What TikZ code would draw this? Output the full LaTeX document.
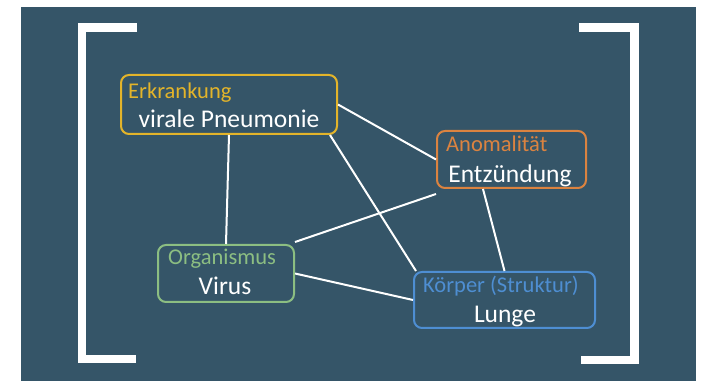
\documentclass[tikz,border=0pt]{standalone}
\usepackage{fontspec}
\setmainfont{Carlito}
\usetikzlibrary{calc}
\definecolor{panel}{HTML}{355568}
\definecolor{cgold}{HTML}{E3B42A}
\definecolor{corange}{HTML}{DB8340}
\definecolor{cgreen}{HTML}{8CBE82}
\definecolor{cblue}{HTML}{4E8ED2}
\tikzset{
  box/.style={draw=#1, line width=2pt, rounded corners=8pt, minimum height=0pt, inner sep=0pt},
  lab/.style={anchor=base west, inner sep=0pt, font=\fontsize{22.5}{24}\selectfont},
  main/.style={anchor=base, inner sep=0pt, text=white, font=\fontsize{25.5}{27}\selectfont},
  link/.style={draw=white, line width=2pt},
  bracket/.style={draw=white, line width=8.5pt, line join=miter},
}
\begin{document}
\begin{tikzpicture}[x=1pt,y=-1pt]
\useasboundingbox (0,0) rectangle (702,382);
\fill[white] (0,0) rectangle (702,382);
\fill[panel] (21,7) rectangle (696,381);
% brackets
\draw[bracket] (137,27.5) -- (82,27.5) -- (82,359) -- (136,359);
\draw[bracket] (579,27.5) -- (634.5,27.5) -- (634.5,360) -- (581,360);
% boxes (as coordinates-named nodes)
\node[box=cgold, minimum width=216pt, minimum height=59pt] (erk) at (229,104.5) {};
\node[box=corange, minimum width=149pt, minimum height=57pt] (ano) at (511.5,159.5) {};
\node[box=cgreen, minimum width=136pt, minimum height=57pt] (org) at (226,273.5) {};
\node[box=cblue, minimum width=181pt, minimum height=56pt] (kor) at (504.5,300) {};
% connectors
\draw[link] (erk.south) -- (org.north);
\draw[link] (erk.east) -- (ano.west);
\draw[link] ([xshift=-8pt]erk.south east) -- ([xshift=3pt]kor.north west);
\draw[link] ([xshift=-28.5pt]ano.south) -- (kor.north);
\draw[link] ([yshift=-5pt]ano.south west) -- ([yshift=2pt]org.north east);
\draw[link] (org.east) -- (kor.west);
% texts
\node[lab, text=cgold] (erkl) at (128,99) {Erkrankung};
\node[main] (erkm) at (229,128) {virale Pneumonie};
\node[lab, text=corange] (anol) at (446,152) {Anomalität};
\node[main] (anom) at (510,183) {Entzündung};
\node[lab, text=cgreen] (orgl) at (168,265) {Organismus};
\node[main] (orgm) at (225,295) {Virus};
\node[lab, text=cblue] (korl) at (423,293) {Körper (Struktur)};
\node[main] (korm) at (505,323) {Lunge};
\end{tikzpicture}
\end{document}
